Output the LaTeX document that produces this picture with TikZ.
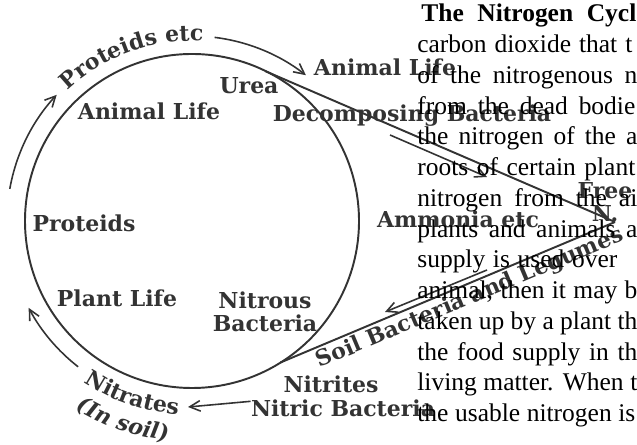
\documentclass[tikz,border=0pt]{standalone}
\usepackage{fontspec}
\usepackage{tikz}
\usetikzlibrary{positioning,arrows.meta,decorations.text}

\newfontfamily\cyclefont{DejaVu Serif}
\newfontfamily\pagefont{Liberation Serif}
\newcommand{\cyclab}{\cyclefont\bfseries\fontsize{12.5}{13.2}\selectfont}
\newcommand{\pagetext}{\pagefont\fontsize{14.5}{17.5}\selectfont}
\definecolor{scan}{gray}{0.2}

\tikzset{
  lbl/.style={font=\cyclab, text=scan, inner sep=0pt, anchor=base},
  cyc/.style={draw=scan, line width=1.1pt},
  arr/.style={draw=scan, line width=0.9pt, -{Straight Barb[length=6pt,width=6pt]}},
  round/.style={decorate, decoration={text along path, text color=scan, text align=center, text={#1}}},
  parline/.style={anchor=base west, inner sep=0pt, font=\pagetext}
}

\begin{document}
\begin{tikzpicture}
\useasboundingbox (0,0) rectangle (12.74,8.9);

% the cycle
\coordinate (c) at (3.84,4.48);
\coordinate (jt) at (5.30,7.48);
\coordinate (jb) at (5.61,1.65);
\coordinate (tip) at (12.30,4.46);
\draw[cyc] (c) circle[radius=3.34];
\draw[cyc] (jt) -- (tip);
\draw[cyc] (jb) -- node[lbl, sloped, below, pos=0.55, inner sep=1.5pt] (soil) {Soil Bacteria and Legumes} (tip);

% arrows round the outside
\draw[arr] ([shift={(170:3.7)}]c) arc[start angle=170, end angle=137, radius=3.7];
\draw[arr] ([shift={(83:3.7)}]c) arc[start angle=83, end angle=52, radius=3.7];
\draw[arr] ([shift={(232:3.7)}]c) arc[start angle=232, end angle=208, radius=3.7];

% arrows beside the two lines
\coordinate (ta) at (7.80,6.20);
\coordinate (tb) at (9.74,5.36);
\draw[arr] (ta) -- (tb);
\coordinate (ba) at (9.74,3.50);
\coordinate (bb) at (7.70,2.66);
\draw[arr] (ba) -- (bb);

% curved labels
\path[round={|\cyclab|Proteids etc}] ([shift={(140:3.6)}]c) arc[start angle=140, end angle=80, radius=3.6];
\path[round={|\cyclab|Nitrates}] ([shift={(231:3.88)}]c) arc[start angle=231, end angle=271, radius=3.88];
\path[round={|\cyclab\itshape|(In soil)}] ([shift={(231:4.42)}]c) arc[start angle=231, end angle=271, radius=4.42];

% labels
\node[lbl] (anout) at (7.70,7.38) {Animal Life};
\node[lbl] (urea) at (4.98,7.02) {Urea};
\node[lbl] (anin) at (2.98,6.50) {Animal Life};
\node[lbl] (decomp) at (8.24,6.46) {Decomposing Bacteria};
\node[lbl] (prot) at (1.68,4.26) {Proteids};
\node[lbl] (ammon) at (9.16,4.34) {Ammonia etc};
\node[lbl] (plant) at (2.34,2.76) {Plant Life};
\node[lbl, anchor=north, align=center] (nitrous) at (5.30,3.08) {Nitrous\\Bacteria};
\node[lbl] (nitrites) at (6.62,1.04) {Nitrites};
\node[lbl] (nitric) at (6.86,0.56) {Nitric Bacteria};
\node[lbl, align=center, above=0pt of tip, xshift=-0.2cm] (free) {Free\\N.};
\coordinate (nq) at (3.76,0.76);
\draw[arr] ([yshift=0.15cm]nitric.west) -- (nq);

% the page text over it
\node[parline, font=\pagetext\bfseries] (title) at (8.42,8.466) {\makebox[4.30cm][s]{The Nitrogen Cycl}};
\foreach \w/\t [count=\i] in {4.30/carbon dioxide that t, 4.40/of the nitrogenous n,
  4.36/from the dead bodie, 4.40/the nitrogen of the a, 4.36/roots of certain plant,
  4.40/nitrogen from the ai, 4.40/plants and animals a, 4.00/supply is used over,
  4.40/{animal, then it may b}, 4.40/taken up by a plant th, 4.40/the food supply in th,
  4.40/living matter. When t, 4.36/the usable nitrogen is}
  \node[parline] (line\i) at (8.34,{8.466-0.6154*\i}) {\makebox[\w cm][s]{\t}};
\end{tikzpicture}
\end{document}
